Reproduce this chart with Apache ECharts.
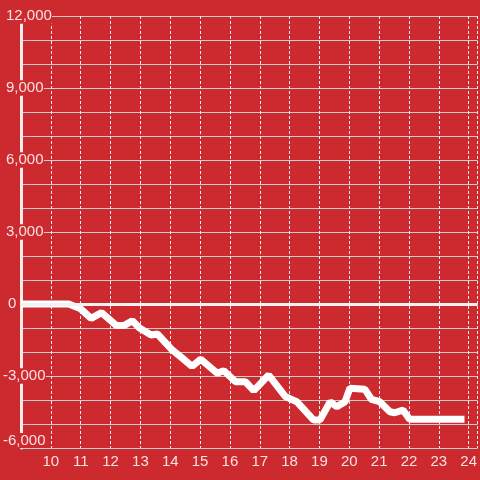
<!DOCTYPE html>
<html>
<head>
<meta charset="utf-8">
<script src="https://cdn.jsdelivr.net/npm/echarts@6/dist/echarts.min.js"></script>
<style>
html,body{margin:0;padding:0;background:#cc2a2f;}
#c{width:480px;height:480px;}
</style>
</head>
<body>
<div id="c"></div>
<script>
var xValues = [9, 10.6, 11.0, 11.35, 11.7, 12.2, 12.45, 12.73, 12.97, 13.36, 13.57, 14.07, 14.4, 14.73, 15.02, 15.57, 15.8, 16.19, 16.52, 16.8, 17.3, 17.86, 18.24, 18.8, 19.02, 19.36, 19.58, 19.86, 20.02, 20.52, 20.74, 21.02, 21.36, 21.52, 21.8, 22.02, 23.86];
var yValues = [0, 0, -200, -600, -360, -900, -900, -700, -1000, -1290, -1250, -1920, -2250, -2600, -2300, -2880, -2780, -3240, -3240, -3610, -2960, -3860, -4070, -4830, -4830, -4070, -4280, -4070, -3510, -3550, -3970, -4070, -4490, -4530, -4420, -4800, -4800];
var yTickLabels = [-6000, -3000, 0, 3000, 6000, 9000, 12000];

var seriesData = xValues.map(function (x, i) { return [x, yValues[i]]; });
var labelColor = 'rgba(255,255,255,0.86)';
var bg = '#cc2a2f';

var chart = echarts.init(document.getElementById('c'));
chart.setOption({
  animation: false,
  backgroundColor: bg,
  grid: { left: 21, right: 0, top: 16, bottom: 32, containLabel: false },
  xAxis: {
    type: 'value',
    min: 9,
    max: 24.3,
    interval: 1,
    axisLine: { show: false },
    axisTick: { show: false },
    axisLabel: {
      color: labelColor,
      fontSize: 15,
      fontFamily: 'Liberation Sans',
      margin: 6,
      showMinLabel: false,
      showMaxLabel: false,
      formatter: function (v) { return Number.isInteger(v) ? String(v) : ''; }
    },
    splitLine: { show: true, lineStyle: { color: '#eeeeee', width: 1, type: [3, 2] } }
  },
  yAxis: {
    type: 'value',
    min: -6000,
    max: 12000,
    interval: 1000,
    axisLine: { show: true, onZero: false, lineStyle: { color: '#eeeeee', width: 3 } },
    axisTick: { show: false },
    axisLabel: {
      color: labelColor,
      fontSize: 15,
      fontFamily: 'Liberation Sans',
      align: 'left',
      margin: 18,
      backgroundColor: bg,
      verticalAlignMinLabel: 'bottom',
      formatter: function (v) {
        if (yTickLabels.indexOf(v) < 0) { return ''; }
        var s = v.toLocaleString('en-US');
        if (v > 0) { return '{p|' + s + '}'; }
        if (v === 0) { return '{z|' + s + '}'; }
        return '{n|' + s + '}';
      },
      rich: {
        p: { color: labelColor, fontSize: 15, fontFamily: 'Liberation Sans', padding: [0, 0, 0, 3], backgroundColor: bg },
        z: { color: labelColor, fontSize: 15, fontFamily: 'Liberation Sans', padding: [0, 0, 0, 5] },
        n: { color: labelColor, fontSize: 15, fontFamily: 'Liberation Sans', backgroundColor: bg }
      }
    },
    splitLine: { show: true, lineStyle: { color: '#cccccc', width: 1 } }
  },
  series: [{
    type: 'line',
    data: seriesData,
    symbol: 'none',
    lineStyle: { color: '#ffffff', width: 7 },
    markLine: {
      silent: true,
      symbol: 'none',
      label: { show: false },
      lineStyle: { color: '#f2f2f2', width: 3, type: 'solid' },
      data: [{ yAxis: 0 }]
    },
    z: 3
  }]
});
</script>
</body>
</html>
